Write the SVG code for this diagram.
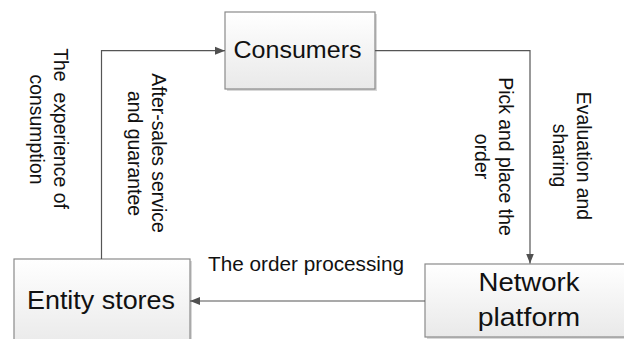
<svg xmlns="http://www.w3.org/2000/svg" width="624" height="339" viewBox="0 0 624 339">
<defs>
<linearGradient id="g" x1="0" y1="0" x2="0" y2="1">
<stop offset="0" stop-color="#ffffff"/>
<stop offset="1" stop-color="#e9e9e9"/>
</linearGradient>
<marker id="arr" viewBox="0 0 10 10" refX="10" refY="5" markerWidth="10" markerHeight="10" markerUnits="userSpaceOnUse" orient="auto">
<path d="M0,1 L10,5 L0,9 Z" fill="#505050"/>
</marker>
<style>
.box{fill:url(#g);stroke:#8a8a8a;stroke-width:1.2}
.sh{fill:#d8d8d8}
.t{font-family:"Liberation Sans",Arial,sans-serif;fill:#111}
.v{font-size:19.4px;text-anchor:middle}
.n{text-anchor:middle}
.c{fill:none;stroke:#555;stroke-width:1.2}
</style>
</defs>
<rect width="624" height="339" fill="#fff"/>
<g id="consumers">
<rect class="sh" x="227" y="14" width="150" height="77"/>
<rect class="box" x="225" y="12" width="150" height="77"/>
<text class="t n" x="297.5" y="58.3" font-size="23.5" textLength="128" lengthAdjust="spacingAndGlyphs">Consumers</text>
</g>
<g id="entity-stores">
<rect class="sh" x="16" y="261" width="176" height="90"/>
<rect class="box" x="14" y="259" width="176" height="90"/>
<text class="t n" x="101" y="309.3" font-size="25" textLength="148" lengthAdjust="spacingAndGlyphs">Entity stores</text>
</g>
<g id="network-platform">
<rect class="sh" x="427" y="266" width="210" height="73"/>
<rect class="box" x="425" y="264" width="210" height="73"/>
<text class="t n" x="529" y="290.7" font-size="25.5" textLength="101" lengthAdjust="spacingAndGlyphs">Network</text>
<text class="t n" x="529" y="325.7" font-size="25.5" textLength="102.5" lengthAdjust="spacingAndGlyphs">platform</text>
</g>
<g id="connectors">
<path class="c" d="M101.5,259 V50.7 H225" marker-end="url(#arr)"/>
<path class="c" d="M375,50.7 H530 V263.5" marker-end="url(#arr)"/>
<path class="c" d="M425,301 H190" marker-end="url(#arr)"/>
</g>
<g id="labels">
<text class="t n" x="306" y="270.7" font-size="19.5" textLength="196" lengthAdjust="spacingAndGlyphs">The order processing</text>
<text class="t v" xml:space="preserve" transform="translate(54,128.5) rotate(90)">The  experience of</text>
<text class="t v" transform="translate(30,129.5) rotate(90)">consumption</text>
<text class="t v" transform="translate(152,153) rotate(90)">After-sales service</text>
<text class="t v" transform="translate(128,153.5) rotate(90)">and guarantee</text>
<text class="t v" transform="translate(499,156.5) rotate(90)">Pick and place the</text>
<text class="t v" transform="translate(475,156.5) rotate(90)">order</text>
<text class="t v" transform="translate(577,156) rotate(90)">Evaluation and</text>
<text class="t v" transform="translate(553,155.5) rotate(90)">sharing</text>
</g>
</svg>
